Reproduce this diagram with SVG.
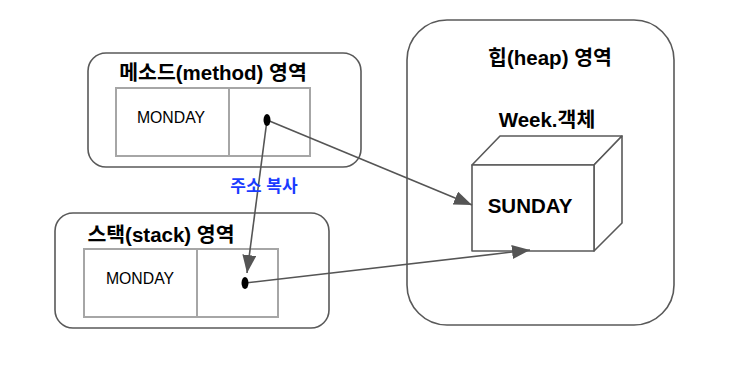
<svg xmlns="http://www.w3.org/2000/svg" width="734" height="368" viewBox="0 0 734 368">
<style>
.area{fill:#fff;stroke:#595959;stroke-width:1.6}
.cell{fill:#fff;stroke:#a6a6a6;stroke-width:2}
.title{font-family:"Liberation Sans","Noto Sans CJK KR",sans-serif;font-weight:bold;font-size:20.5px;fill:#000}
.val{font-family:"Liberation Sans","Noto Sans CJK KR",sans-serif;font-size:15.8px;fill:#000;text-anchor:middle}
.conn{fill:none;stroke:#555;stroke-width:1.6}
.dot{fill:#000}
.cube{fill:#fff;stroke:#595959;stroke-width:1.6;stroke-linejoin:round}
</style>
<defs>
<marker id="arr" markerUnits="userSpaceOnUse" markerWidth="20" markerHeight="16" refX="18" refY="7" orient="auto">
<path d="M0,0 L18,7 L0,14 z" fill="#555"/>
</marker>
</defs>
<rect width="734" height="368" fill="#fff"/>
<g id="heap">
<rect class="area" x="407" y="20" width="267" height="305" rx="40"/>
<text class="title" x="550" y="65" text-anchor="middle">힙(heap) 영역</text>
<text class="title" x="547" y="127" text-anchor="middle" font-size="16.5">Week.객체</text>
<g id="week-object">
<path class="cube" d="M472,165 L500,136 L622,136 L594,165 Z"/>
<path class="cube" d="M594,165 L622,136 L622,223 L594,251 Z"/>
<rect class="cube" x="472" y="165" width="122" height="86"/>
<text class="title" x="530" y="213" text-anchor="middle" font-size="16.2">SUNDAY</text>
</g>
</g>
<g id="method">
<rect class="area" x="88" y="53" width="273" height="114" rx="18"/>
<text class="title" x="213" y="80" text-anchor="middle">메소드(method) 영역</text>
<rect class="cell" x="116" y="88" width="113" height="68"/>
<rect class="cell" x="229" y="88" width="81" height="68"/>
<text class="val" x="171" y="123">MONDAY</text>
</g>
<g id="stack">
<rect class="area" x="55" y="213" width="274" height="115" rx="18"/>
<text class="title" x="161" y="242" text-anchor="middle">스택(stack) 영역</text>
<rect class="cell" x="84" y="249" width="113" height="68"/>
<rect class="cell" x="197" y="249" width="81" height="68"/>
<text class="val" x="140" y="284">MONDAY</text>
</g>
<g id="connectors">
<line class="conn" x1="267" y1="120" x2="472" y2="205" marker-end="url(#arr)"/>
<line class="conn" x1="267" y1="120" x2="247" y2="273" marker-end="url(#arr)"/>
<line class="conn" x1="245" y1="283" x2="530" y2="250" marker-end="url(#arr)"/>
<ellipse class="dot" cx="267" cy="120" rx="3.5" ry="6"/>
<ellipse class="dot" cx="245" cy="283" rx="3.5" ry="6"/>
<text x="264" y="192" text-anchor="middle" font-family="Liberation Sans,Noto Sans CJK KR,sans-serif" font-weight="bold" font-size="17" fill="#1a3cff">주소 복사</text>
</g>
</svg>
